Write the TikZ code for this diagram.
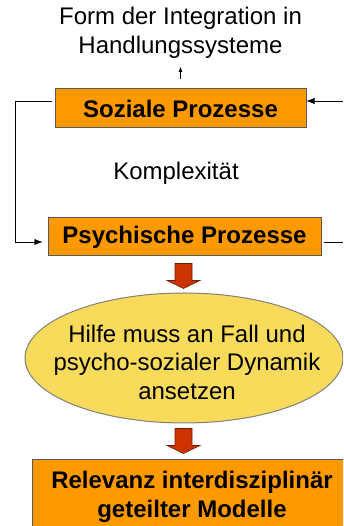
\documentclass[tikz,border=0pt]{standalone}
\usepackage{fontspec}
\setmainfont{Liberation Sans}
\usetikzlibrary{arrows.meta,shapes.geometric,calc}
\definecolor{orangebox}{RGB}{255,153,0}
\definecolor{gelb}{RGB}{249,219,92}
\definecolor{rotpfeil}{RGB}{204,51,0}

\begin{document}
\begin{tikzpicture}
	[
		x=1pt,
		y=1pt,
		>={Latex[length=8pt,width=6pt]},
		every node/.style={font=\fontsize{24}{28.5}\selectfont},
		prozess/.style={draw=gray!70!black, fill=orangebox, line width=1pt, inner sep=0pt, font=\fontsize{24}{28.5}\selectfont\bfseries},
		hilfe/.style={ellipse, draw=gray, fill=gelb, line width=1pt, inner sep=0pt, minimum width=318, minimum height=130},
		dickpfeil/.style={fill=rotpfeil, draw=rotpfeil!55!black, line width=0.6pt}
	]
		\clip (0,0) rectangle (343,526);
		% Kasten und Texte
		\node (form) at (180.5,493) [align=center] {Form der Integration in\\Handlungssysteme};
		\node[prozess, minimum width=251, minimum height=39] (soziale) at (180.5,417.5) {Soziale Prozesse};
		\node (komplex) at (176,352.5) {Komplexität};
		\node[prozess, minimum width=273, minimum height=38] (psychische) at (184.5,289) {Psychische Prozesse};
		\node[hilfe] (hilfe) at (184,168) {};
		\node (hilfetext) at (187,164) [align=center] {Hilfe muss an Fall und\\psycho-sozialer Dynamik\\ansetzen};
		\node[prozess, minimum width=320, minimum height=74, align=center] (relevanz) at (192,29) {Relevanz interdisziplinär\\geteilter Modelle};
		% Rueckkopplung
		\coordinate (links) at (15.5,425);
		\coordinate (rechtsoben) at (343,425);
		\coordinate (rechtsunten) at (343,284);
		\draw [->, >={Latex[length=5pt,width=4pt]}, shorten <=9pt, shorten >=5pt] (soziale.north) -- (form.south);
		\draw [->] ([xshift=-3,yshift=7.5]soziale.west) -- (links) |- ([xshift=-5,yshift=-5]psychische.west);
		\draw [->] (rechtsoben) -- ([yshift=7.5]soziale.east);
		\draw ([xshift=2,yshift=-5]psychische.east) -- (rechtsunten);
		% dicke Pfeile
		\draw [dickpfeil, shift={($(psychische.south)+(-1,-7)$)}] (-8.5,0) -- (8.5,0) -- (8.5,-17) -- (16.5,-17) -- (0,-25) -- (-16.5,-17) -- (-8.5,-17) -- cycle;
		\draw [dickpfeil, shift={($(hilfe.south)+(-0.5,-5)$)}] (-8.5,0) -- (8.5,0) -- (8.5,-17) -- (16.5,-17) -- (0,-25) -- (-16.5,-17) -- (-8.5,-17) -- cycle;
	\end{tikzpicture}
\end{document}
